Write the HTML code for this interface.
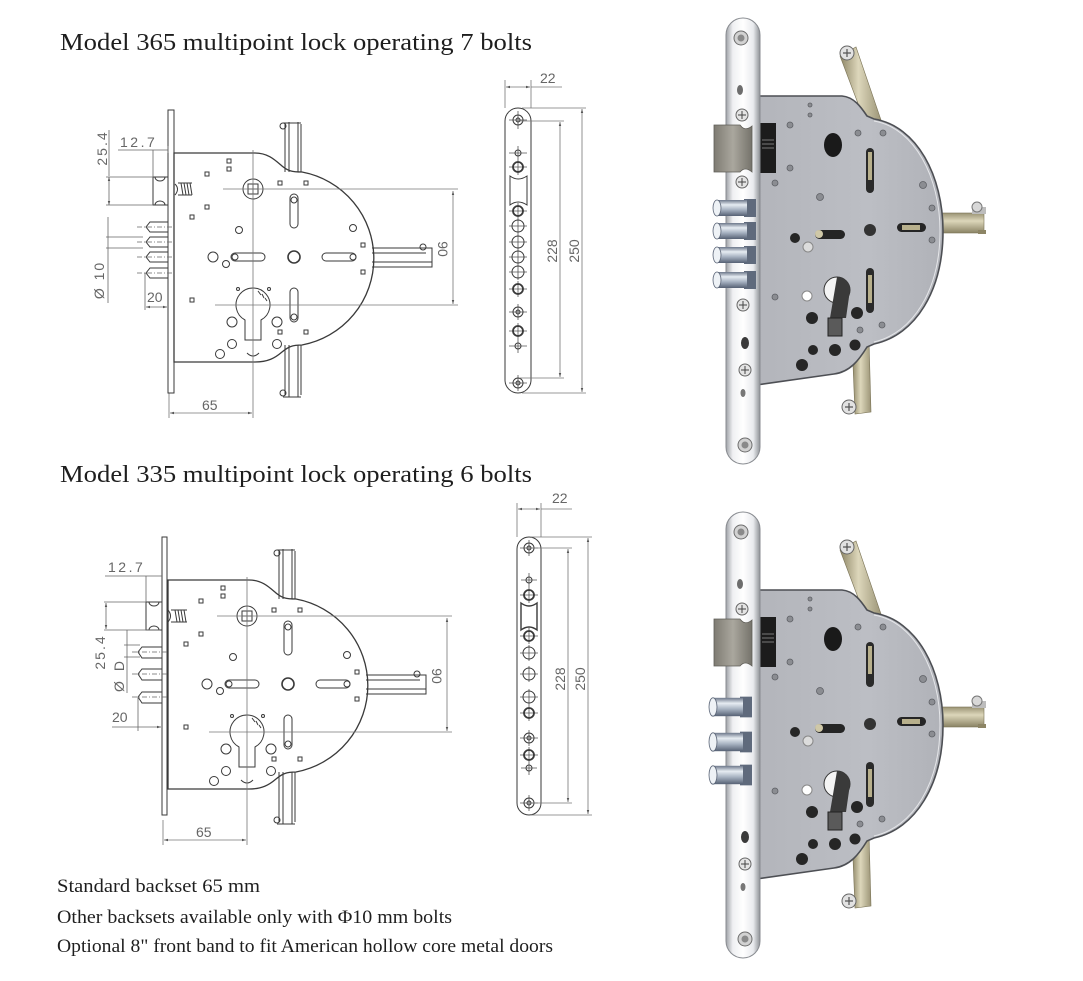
<!DOCTYPE html>
<html><head><meta charset="utf-8"><style>
html,body{margin:0;padding:0;background:#fff;}
svg{display:block;}
.t{font-family:"Liberation Serif",serif;fill:#1e1e1e;}
.d{font-family:"Liberation Sans",sans-serif;fill:#666;font-size:14px;}
</style></head><body>
<svg width="1083" height="981" viewBox="0 0 1083 981" xmlns="http://www.w3.org/2000/svg">
<defs>
<marker id="ar" viewBox="0 0 10 10" refX="10" refY="5" markerWidth="5" markerHeight="5" orient="auto-start-reverse"><path d="M0,2 L10,5 L0,8 Z" fill="#555"/></marker>
<linearGradient id="chrome" x1="0" x2="1" y1="0" y2="0"><stop offset="0" stop-color="#9fa2a7"/><stop offset="0.2" stop-color="#eff0f2"/><stop offset="0.5" stop-color="#ffffff"/><stop offset="0.8" stop-color="#e9ebee"/><stop offset="1" stop-color="#8f9297"/></linearGradient>
<linearGradient id="brass" x1="0" x2="1" y1="0" y2="0"><stop offset="0" stop-color="#8d8565"/><stop offset="0.45" stop-color="#ddd7bb"/><stop offset="1" stop-color="#9c9577"/></linearGradient>
<linearGradient id="brassv" x1="0" x2="0" y1="0" y2="1"><stop offset="0" stop-color="#9a9374"/><stop offset="0.4" stop-color="#dcd6ba"/><stop offset="1" stop-color="#8a8364"/></linearGradient>
<linearGradient id="bolt" x1="0" x2="0" y1="0" y2="1"><stop offset="0" stop-color="#6c778a"/><stop offset="0.3" stop-color="#e6ecf2"/><stop offset="0.6" stop-color="#a9b4c3"/><stop offset="1" stop-color="#566174"/></linearGradient>
<linearGradient id="latch" x1="0" x2="1" y1="0" y2="0"><stop offset="0" stop-color="#7e7b72"/><stop offset="0.5" stop-color="#aaa79e"/><stop offset="1" stop-color="#75736b"/></linearGradient>
<linearGradient id="case" x1="0" x2="1" y1="0" y2="0"><stop offset="0" stop-color="#b3b5bb"/><stop offset="0.6" stop-color="#bcbec4"/><stop offset="1" stop-color="#b0b2b8"/></linearGradient>

<!-- shared technical drawing (top coordinates) -->
<g id="drw">
 <g fill="none" stroke="#3a3a3a" stroke-width="1">
  <path d="M285,124 V172 M289,122 V172 M298,122 V172 M301,124 V172"/>
  <path d="M285,345 V395 M289,345 V397 M298,345 V397 M301,345 V395"/>
  <circle cx="283" cy="126" r="3"/><circle cx="283" cy="393" r="3"/>
  <path d="M283,123 H301 M283,397 H301"/>
  <path d="M372,248 H432 V267 H372 M372,253 H426 M372,262 H432"/>
  <circle cx="423" cy="247" r="3"/>
  <path d="M174,153 H255 C268,153 275,160 282,166 C288,171 292,172 302,172 A88,88 0 0 1 302,345 C292,345 288,347 282,352 C275,358 268,362 255,362 H174 Z" stroke-width="1.3"/>
  <!-- squares -->
  <rect x="227" y="159" width="4" height="4"/><rect x="227" y="167" width="4" height="4"/>
  <rect x="205" y="172" width="4" height="4"/><rect x="205" y="205" width="4" height="4"/>
  <rect x="190" y="215" width="4" height="4"/><rect x="278" y="181" width="4" height="4"/>
  <rect x="304" y="181" width="4" height="4"/><rect x="190" y="298" width="4" height="4"/>
  <rect x="361" y="243" width="4" height="4"/><rect x="361" y="270" width="4" height="4"/>
  <rect x="278" y="330" width="4" height="4"/><rect x="304" y="330" width="4" height="4"/>
  <!-- circles -->
  <circle cx="239" cy="230" r="3.5"/><circle cx="353" cy="228" r="3.5"/>
  <circle cx="213" cy="257" r="5"/><circle cx="226" cy="264" r="3.5"/>
  <circle cx="235" cy="257" r="3"/><circle cx="353" cy="257" r="3"/>
  <circle cx="232" cy="322" r="5"/><circle cx="277" cy="322" r="5"/>
  <circle cx="232" cy="344" r="4.5"/><circle cx="277" cy="344" r="4.5"/>
  <circle cx="220" cy="354" r="4.5"/>
  <circle cx="294" cy="200" r="3"/><circle cx="294" cy="317" r="3"/>
  <circle cx="238" cy="289" r="1.5"/><circle cx="269" cy="289" r="1.5"/>
  <!-- slots -->
  <rect x="290" y="194" width="8" height="34" rx="4"/>
  <rect x="290" y="288" width="8" height="34" rx="4"/>
  <rect x="231" y="253" width="34" height="8" rx="4"/>
  <rect x="322" y="253" width="34" height="8" rx="4"/>
  <circle cx="294" cy="257" r="6" stroke-width="1.6"/>
  <!-- hub -->
  <circle cx="253" cy="189" r="10"/>
  <rect x="248" y="184" width="10" height="10"/>
  <path d="M253,184 V194 M248,189 H258"/>
  <!-- cylinder -->
  <path d="M245,320 A17,17 0 1 1 261,320 V340 H245 Z"/>
  <path d="M258,291 l3,4 M262,294 l2,4 M265,298 l2,3"/>
  <path d="M247,353 Q253,359 259,353"/>
 </g>
 <g fill="none" stroke="#777" stroke-width="0.8">
  <path d="M223,189 H458 M215,305 H458 M253,150 V418 M169,393 V418"/>
  <path d="M453,191 V304" marker-start="url(#ar)" marker-end="url(#ar)"/>
  <path d="M170,413 H252" marker-start="url(#ar)" marker-end="url(#ar)"/>
 </g>
 <text class="d" x="202" y="410" font-size="15">65</text>
 <text class="d" transform="translate(438,249) rotate(90)" text-anchor="middle" font-size="15">90</text>
</g>
</defs>

<rect width="1083" height="981" fill="#fff"/>

<!-- Titles -->
<text class="t" x="60" y="50" font-size="24" textLength="472" lengthAdjust="spacingAndGlyphs">Model 365 multipoint lock operating 7 bolts</text>
<text class="t" x="60" y="482" font-size="24" textLength="472" lengthAdjust="spacingAndGlyphs">Model 335 multipoint lock operating 6 bolts</text>

<!-- Drawing 1 -->
<use href="#drw"/>
<g fill="none" stroke="#3a3a3a" stroke-width="1">
 <rect x="168" y="110" width="6" height="283"/>
 <path d="M153,177 H168 V205 H153 Z"/>
 <path d="M155,177 A5,4 0 0 0 165,177 M155,205 A5,4 0 0 1 165,205"/>
 <path d="M175,184 Q180,189 175,195 M178,183 H192 M178,195 H192 M181,183 L183,195 M184,183 L186,195 M187,183 L189,195 M190,183 L192,195"/>
 <path d="M150,222 H168 V232 H150 L146,227 Z"/>
 <path d="M150,237 H168 V247 H150 L146,242 Z"/>
 <path d="M150,252 H168 V262 H150 L146,257 Z"/>
 <path d="M150,268 H168 V278 H150 L146,273 Z"/>
</g>
<g fill="none" stroke="#666" stroke-width="0.8">
 <path d="M137,227 H172 M137,242 H172 M137,257 H172 M137,273 H172" stroke-dasharray="5 2 1 2"/>
 <path d="M118,150 H168 M153,150 V177 M168,146 V153"/>
 <path d="M109,130 V176"/>
 <path d="M109,177 V205" marker-start="url(#ar)" marker-end="url(#ar)"/>
 <path d="M106,177 H153 M106,205 H153"/>
 <path d="M108,217 V303 M106,237 H143 M106,248 H143"/>
 <path d="M145,273 V310"/>
 <path d="M146,307 H167" marker-start="url(#ar)" marker-end="url(#ar)"/>
</g>
<text class="d" x="120" y="147" font-size="13" letter-spacing="2.5">12.7</text>
<text class="d" transform="translate(107,148) rotate(-90)" text-anchor="middle" font-size="13" letter-spacing="2">25.4</text>
<text class="d" transform="translate(104,280) rotate(-90)" text-anchor="middle" font-size="14" letter-spacing="2">Ø 10</text>
<text class="d" x="147" y="302" font-size="14">20</text>

<!-- Drawing 2 -->
<use href="#drw" transform="translate(-6,427)"/>
<g fill="none" stroke="#3a3a3a" stroke-width="1">
 <rect x="162" y="537" width="5" height="278"/>
 <path d="M146,602 H162 V630 H146 Z"/>
 <path d="M149,602 A5,4 0 0 0 159,602 M149,630 A5,4 0 0 1 159,630"/>
 <path d="M168,610 Q173,616 168,622 M171,610 H187 M171,622 H187 M175,610 L177,622 M178,610 L180,622 M181,610 L183,622 M184,610 L186,622"/>
 <path d="M142,647 H162 V658 H142 L138,652 Z"/>
 <path d="M142,669 H162 V680 H142 L138,674 Z"/>
 <path d="M142,692 H162 V703 H142 L138,697 Z"/>
</g>
<g fill="none" stroke="#666" stroke-width="0.8">
 <path d="M132,652 H168 M132,674 H168 M132,697 H168" stroke-dasharray="5 2 1 2"/>
 <path d="M105,576 H162 M146,576 V602"/>
 <path d="M106,603 V629" marker-start="url(#ar)" marker-end="url(#ar)"/>
 <path d="M104,602 H146 M104,630 H160"/>
 <path d="M127,630 V693 M124,645 H140 M124,657 H140"/>
 <path d="M138,697 V731"/>
 <path d="M112,727 H161" marker-end="url(#ar)"/>
</g>
<text class="d" x="108" y="572" font-size="13" letter-spacing="2.5">12.7</text>
<text class="d" transform="translate(105,652) rotate(-90)" text-anchor="middle" font-size="13" letter-spacing="2">25.4</text>
<text class="d" transform="translate(124,675) rotate(-90)" text-anchor="middle" font-size="14" letter-spacing="3">Ø D</text>
<text class="d" x="112" y="722" font-size="14">20</text>

<!-- Front band 1 -->
<g fill="none" stroke="#3a3a3a" stroke-width="1">
 <rect x="505" y="108" width="26" height="285" rx="13"/>
 <path d="M510,176 Q518,182 527,176 V205 Q518,199 510,205 Z"/>
 <g stroke-width="0.8" stroke="#555">
  <path d="M509,120 H527 M518,111 V129 M509,153 H527 M518,146 V160 M509,167 H527 M518,159 V175 M509,211 H527 M518,203 V219 M509,226 H527 M518,218 V234 M509,242 H527 M518,234 V250 M509,257 H527 M518,249 V265 M509,272 H527 M518,264 V280 M509,289 H527 M518,281 V297 M509,312 H527 M518,304 V320 M509,331 H527 M518,323 V339 M509,346 H527 M518,339 V353 M509,383 H527 M518,375 V391"/>
 </g>
 <circle cx="518" cy="120" r="5"/><circle cx="518" cy="120" r="2"/>
 <circle cx="518" cy="153" r="3"/>
 <circle cx="518" cy="167" r="5" stroke-width="1.8"/>
 <circle cx="518" cy="211" r="5" stroke-width="1.8"/>
 <circle cx="518" cy="226" r="6"/><circle cx="518" cy="242" r="6"/>
 <circle cx="518" cy="257" r="6"/><circle cx="518" cy="272" r="6"/>
 <circle cx="518" cy="289" r="5" stroke-width="1.8"/>
 <circle cx="518" cy="312" r="5"/><circle cx="518" cy="312" r="2"/>
 <circle cx="518" cy="331" r="5" stroke-width="1.8"/>
 <circle cx="518" cy="346" r="3"/>
 <circle cx="518" cy="383" r="5"/><circle cx="518" cy="383" r="2"/>
</g>
<g fill="none" stroke="#777" stroke-width="0.8">
 <path d="M505,80 V108 M531,80 V108 M531,87 H562"/>
 <path d="M506,87 H530" marker-start="url(#ar)" marker-end="url(#ar)"/>
 <path d="M520,121 H564 M520,378 H564 M522,108 H586 M522,393 H586"/>
 <path d="M560,122 V377" marker-start="url(#ar)" marker-end="url(#ar)"/>
 <path d="M582,109 V392" marker-start="url(#ar)" marker-end="url(#ar)"/>
</g>
<text class="d" x="540" y="83" font-size="14">22</text>
<text class="d" transform="translate(557,251) rotate(-90)" text-anchor="middle" font-size="15">228</text>
<text class="d" transform="translate(579,251) rotate(-90)" text-anchor="middle" font-size="15">250</text>

<!-- Front band 2 -->
<g fill="none" stroke="#3a3a3a" stroke-width="1">
 <rect x="517" y="537" width="24" height="278" rx="12"/>
 <path d="M521,603 Q529,609 537,603 V630 Q529,624 521,630 Z" stroke-width="1.4"/>
 <g stroke-width="0.8" stroke="#555">
  <path d="M520,548 H538 M529,540 V556 M521,580 H537 M529,573 V587 M520,595 H538 M529,587 V603 M520,636 H538 M529,628 V644 M520,653 H538 M529,645 V661 M520,674 H538 M529,666 V682 M520,697 H538 M529,689 V705 M520,713 H538 M529,705 V721 M520,738 H538 M529,730 V746 M520,755 H538 M529,747 V763 M521,768 H537 M529,762 V775 M520,803 H538 M529,795 V811"/>
 </g>
 <circle cx="529" cy="548" r="5"/><circle cx="529" cy="548" r="2"/>
 <circle cx="529" cy="580" r="3"/>
 <circle cx="529" cy="595" r="5" stroke-width="1.8"/>
 <circle cx="529" cy="636" r="5" stroke-width="1.8"/>
 <circle cx="529" cy="653" r="6"/><circle cx="529" cy="674" r="6"/><circle cx="529" cy="697" r="6"/>
 <circle cx="529" cy="713" r="5" stroke-width="1.8"/>
 <circle cx="529" cy="738" r="5"/><circle cx="529" cy="738" r="2"/>
 <circle cx="529" cy="755" r="5" stroke-width="1.8"/>
 <circle cx="529" cy="768" r="3"/>
 <circle cx="529" cy="803" r="5"/><circle cx="529" cy="803" r="2"/>
</g>
<g fill="none" stroke="#777" stroke-width="0.8">
 <path d="M517,503 V537 M541,503 V537 M541,509 H572"/>
 <path d="M518,509 H540" marker-start="url(#ar)" marker-end="url(#ar)"/>
 <path d="M531,548 H572 M531,803 H572 M531,537 H592 M531,815 H592"/>
 <path d="M568,549 V802" marker-start="url(#ar)" marker-end="url(#ar)"/>
 <path d="M588,538 V814" marker-start="url(#ar)" marker-end="url(#ar)"/>
</g>
<text class="d" x="552" y="503" font-size="14">22</text>
<text class="d" transform="translate(565,679) rotate(-90)" text-anchor="middle" font-size="15">228</text>
<text class="d" transform="translate(585,679) rotate(-90)" text-anchor="middle" font-size="15">250</text>

<!-- Photo lock group -->
<defs>
<g id="ph">
 <polygon points="840,56 856,47 881,120 865,122" fill="url(#brass)" stroke="#7a7356" stroke-width="0.6"/>
 <polygon points="852,340 869,340 871,412 855,414" fill="url(#brass)" stroke="#7a7356" stroke-width="0.6"/>
 <rect x="936" y="213" width="48" height="20" fill="url(#brassv)" stroke="#7a7356" stroke-width="0.6"/>
 <rect x="972" y="207" width="14" height="7" fill="#bdbdbd"/>
 <circle cx="977" cy="207" r="5" fill="#d8d8d8" stroke="#777"/>
 <rect x="978" y="230" width="8" height="4" fill="#8d8565"/>
 <path d="M756,96 L842,96 C854,97 861,107 867,116 L874,119 C917,126 943,176 943,231 C943,290 916,335 874,344 L867,347 C859,360 850,372 834,374 L756,385 Z" fill="url(#case)" stroke="#4d4f54" stroke-width="1.6"/>
 <path d="M874,121 C915,128 940,178 940,231 C940,290 913,333 874,342" fill="none" stroke="#e6e7ea" stroke-width="1"/>
 <rect x="758" y="123" width="18" height="50" fill="#1c1c1c"/>
 <path d="M762,140 h12 M762,144 h12 M762,148 h12" stroke="#777" stroke-width="1"/>
 <!-- rivets -->
 <g fill="#8b8d92" stroke="#5e6065" stroke-width="0.8">
  <circle cx="790" cy="125" r="3"/><circle cx="790" cy="168" r="3"/><circle cx="775" cy="183" r="3"/>
  <circle cx="820" cy="197" r="3.5"/><circle cx="858" cy="133" r="3"/><circle cx="883" cy="133" r="3"/>
  <circle cx="923" cy="185" r="3.5"/><circle cx="932" cy="208" r="3"/><circle cx="932" cy="240" r="3"/>
  <circle cx="775" cy="297" r="3"/><circle cx="860" cy="330" r="3"/><circle cx="882" cy="325" r="3"/>
  <circle cx="810" cy="105" r="2"/><circle cx="810" cy="115" r="2"/>
 </g>
 <ellipse cx="833" cy="145" rx="9" ry="12" fill="#1a1a1a"/>
 <rect x="866" y="148" width="8" height="45" rx="4" fill="#2a2a2a"/>
 <rect x="868" y="152" width="4" height="28" fill="#b8b08c"/>
 <rect x="815" y="230" width="30" height="9" rx="4.5" fill="#252525"/>
 <circle cx="819" cy="234" r="4" fill="#cfc8a8"/>
 <rect x="897" y="223" width="29" height="9" rx="4.5" fill="#252525"/>
 <rect x="902" y="225" width="18" height="5" fill="#b8b08c"/>
 <circle cx="870" cy="230" r="6" fill="#333"/>
 <rect x="866" y="268" width="8" height="45" rx="4" fill="#2a2a2a"/>
 <rect x="868" y="275" width="4" height="28" fill="#b8b08c"/>
 <circle cx="837" cy="290" r="13" fill="#f4f4f4" stroke="#333" stroke-width="1"/>
 <path d="M837,277 A13,13 0 0 1 850,290 L846,318 H830 Z" fill="#3a3a3a"/>
 <rect x="828" y="318" width="14" height="18" fill="#5a5a5a" stroke="#222"/>
 <circle cx="807" cy="296" r="5" fill="#fff" stroke="#888"/>
 <g fill="#262626">
  <circle cx="812" cy="318" r="6"/><circle cx="857" cy="313" r="6"/>
  <circle cx="813" cy="350" r="5"/><circle cx="835" cy="350" r="6"/>
  <circle cx="855" cy="345" r="5.5"/><circle cx="802" cy="365" r="6"/>
  <circle cx="795" cy="238" r="5"/>
 </g>
 <circle cx="808" cy="247" r="5" fill="#dcdcdc" stroke="#888"/>
 <circle cx="847" cy="53" r="7" fill="#e2e2e2" stroke="#666"/>
 <path d="M843,53 h8 M847,49 v8" stroke="#555" stroke-width="1.2"/>
 <circle cx="849" cy="407" r="7" fill="#e2e2e2" stroke="#666"/>
 <path d="M845,407 h8 M849,403 v8" stroke="#555" stroke-width="1.2"/>
 <!-- front plate -->
 <rect x="726" y="18" width="34" height="446" rx="17" fill="url(#chrome)" stroke="#888b90" stroke-width="1"/>
 <circle cx="741" cy="38" r="7" fill="#d2d2d2" stroke="#6d6d6d"/><circle cx="741" cy="38" r="3.5" fill="#8a8a8a"/>
 <ellipse cx="740" cy="90" rx="3" ry="5" fill="#6d6d6d"/>
 <circle cx="742" cy="115" r="6" fill="#e4e4e4" stroke="#666"/><path d="M738,115 h8 M742,111 v8" stroke="#444"/>
 <ellipse cx="745" cy="343" rx="4" ry="6" fill="#3a3a3a"/>
 <circle cx="745" cy="370" r="6" fill="#e4e4e4" stroke="#666"/><path d="M741,370 h8 M745,366 v8" stroke="#444"/>
 <ellipse cx="743" cy="393" rx="2.5" ry="4" fill="#777"/>
 <circle cx="745" cy="445" r="7" fill="#d2d2d2" stroke="#6d6d6d"/><circle cx="745" cy="445" r="3.5" fill="#8a8a8a"/>
 <!-- latch -->
 <path d="M714,125 H740 Q745,132 752,126 V172 Q745,166 740,172 H714 Z" fill="url(#latch)" stroke="#5f5d57" stroke-width="0.8"/>
</g>
<g id="bolt1">
 <rect x="744" y="-9" width="12" height="18" fill="#5f6a7c"/>
 <rect x="717" y="-8" width="30" height="16" fill="url(#bolt)"/>
 <ellipse cx="717" cy="0" rx="4" ry="8" fill="#eef2f6" stroke="#5a6476" stroke-width="0.8"/>
</g>
</defs>

<!-- Photo 1 -->
<use href="#ph"/>
<circle cx="742" cy="182" r="6" fill="#e4e4e4" stroke="#666"/><path d="M738,182 h8 M742,178 v8" stroke="#444"/>
<circle cx="743" cy="305" r="6" fill="#e4e4e4" stroke="#666"/><path d="M739,305 h8 M743,301 v8" stroke="#444"/>
<use href="#bolt1" transform="translate(0,208)"/>
<use href="#bolt1" transform="translate(0,231)"/>
<use href="#bolt1" transform="translate(0,255)"/>
<use href="#bolt1" transform="translate(0,280)"/>

<!-- Photo 2 -->
<use href="#ph" transform="translate(0,494)"/>
<use href="#bolt1" transform="translate(-4,707) scale(1,1.15)"/>
<use href="#bolt1" transform="translate(-4,742) scale(1,1.15)"/>
<use href="#bolt1" transform="translate(-4,775) scale(1,1.15)"/>

<!-- Notes -->
<text class="t" x="57" y="892" font-size="19" textLength="203" lengthAdjust="spacingAndGlyphs">Standard backset 65 mm</text>
<text class="t" x="57" y="923" font-size="19" textLength="395" lengthAdjust="spacingAndGlyphs">Other backsets available only with Φ10 mm bolts</text>
<text class="t" x="57" y="952" font-size="19" textLength="496" lengthAdjust="spacingAndGlyphs">Optional 8" front band to fit American hollow core metal doors</text>
</svg>
</body></html>
